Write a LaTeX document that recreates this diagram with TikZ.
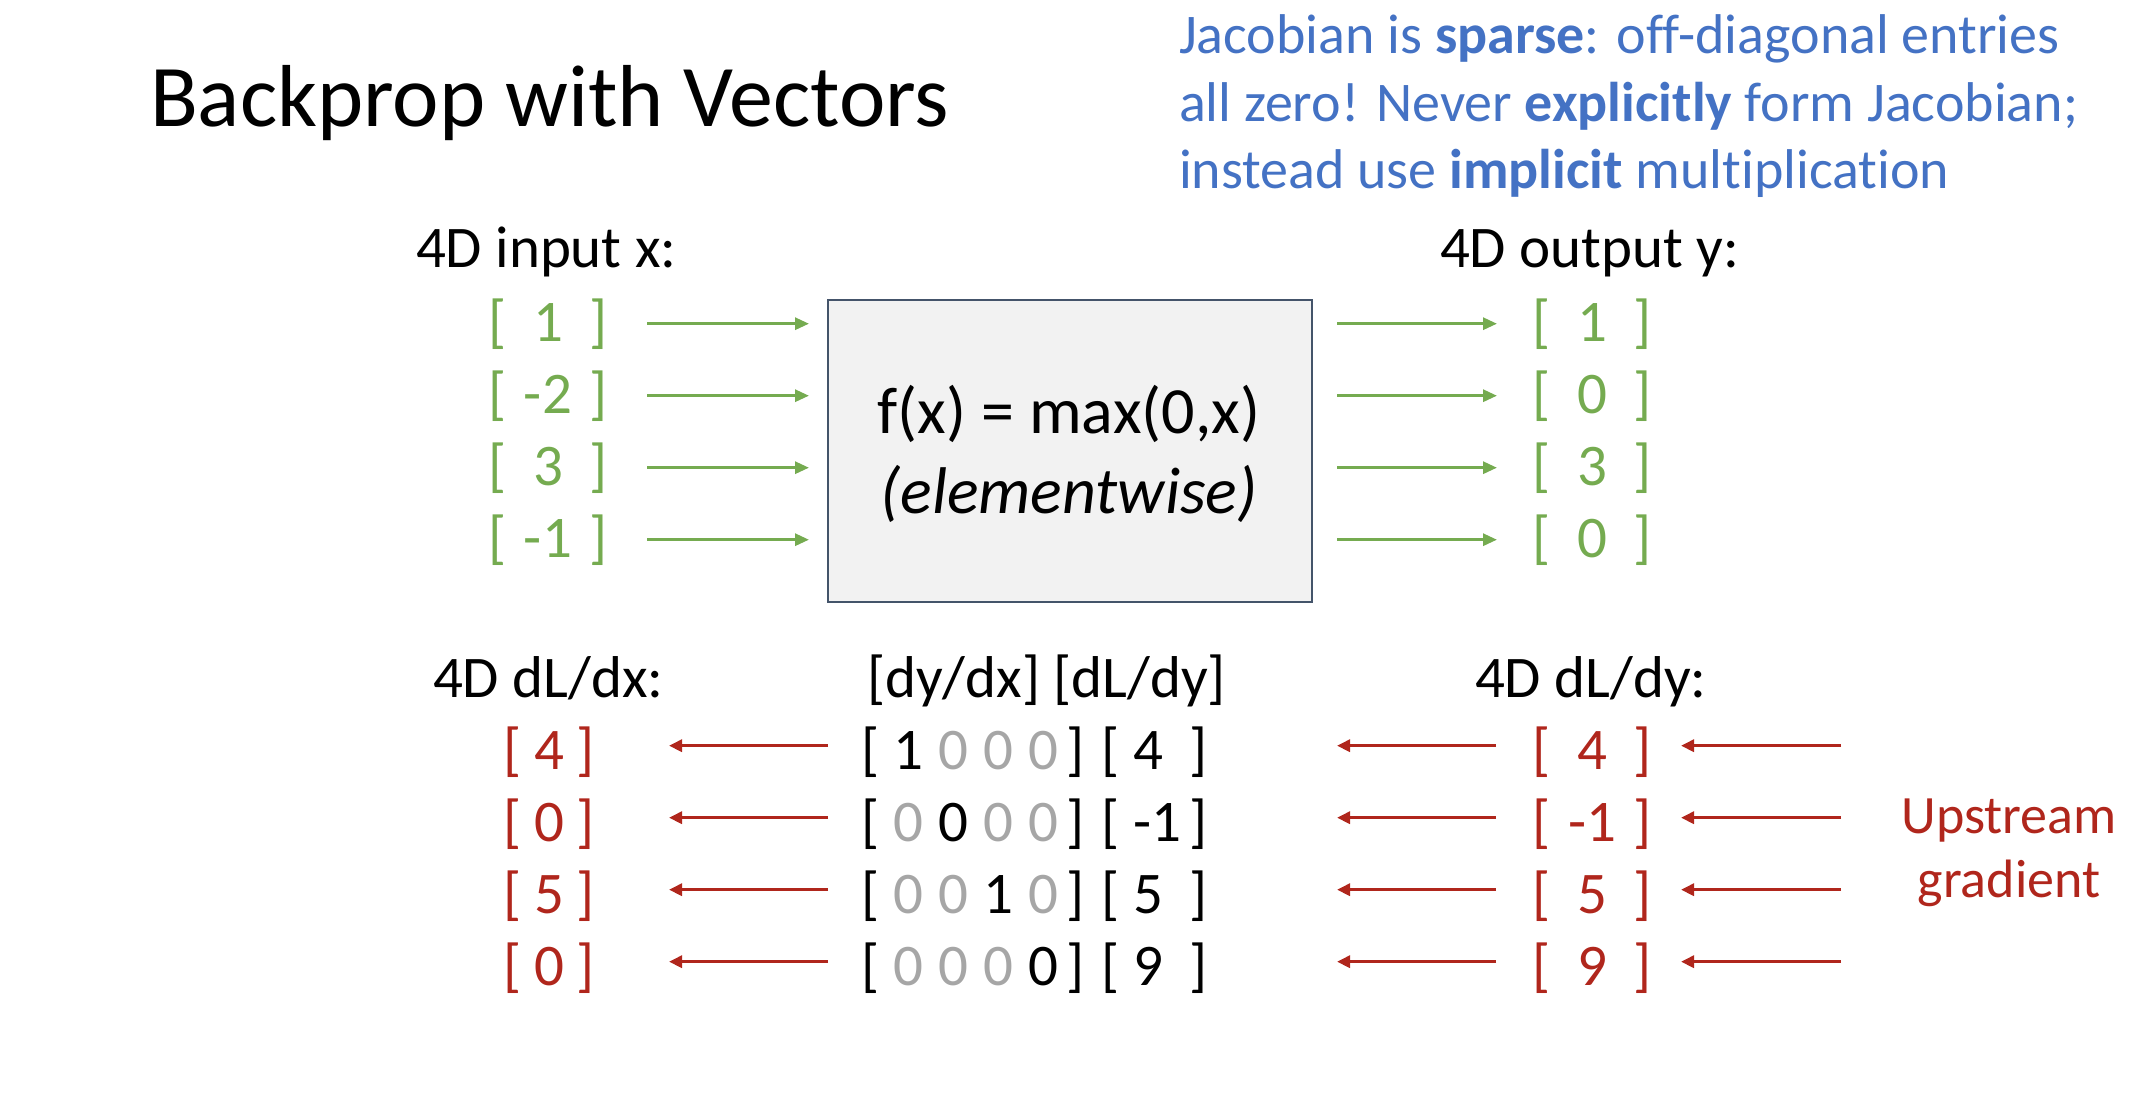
\documentclass[tikz,border=0pt]{standalone}
\usepackage{fontspec}
\setmainfont{Carlito}[Ligatures=NoCommon]
\usetikzlibrary{arrows.meta}
\definecolor{vgreen}{HTML}{75AB50}
\definecolor{vred}{HTML}{B0261C}
\definecolor{vblue}{HTML}{4472C4}
\definecolor{zerogray}{HTML}{A6A6A6}
\definecolor{boxfill}{HTML}{F2F2F2}
\definecolor{boxline}{HTML}{44546A}
\newcommand\vent[2]{\makebox[#1][s]{[\hfil#2\hfil]}}
\newcommand\jb[1]{\makebox[45pt]{#1}}
\newcommand\jg{\makebox[45pt]{\color{zerogray}0}}

\begin{document}
\begin{tikzpicture}
[x=1pt, y=-1pt, every node/.style={inner sep=0pt, outer sep=0pt},
 txt/.style={font=\fontsize{59}{70}\selectfont, anchor=base west},
 note/.style={font=\fontsize{56}{68}\selectfont, text=vblue, anchor=base west},
 garrow/.style={draw=vgreen, line width=3pt, -{Triangle[length=14pt, width=12pt]}},
 rarrow/.style={draw=vred, line width=3.5pt, -{Triangle[length=13pt, width=12pt]}}]
\useasboundingbox (0,0) rectangle (2134,1100);
\node (title) [anchor=base west, font=\fontsize{88}{100}\selectfont] at (150,126) {Backprop with Vectors};
\node (note1) [note] at (1179,53) {Jacobian is \textbf{sparse}: off-diagonal entries};
\node (note2) [note] at (1179,121) {all zero! Never \textbf{explicitly} form Jacobian;};
\node (note3) [note] at (1179,188) {instead use \textbf{implicit} multiplication};
\node (inlabel) [txt] at (416,267) {4D input x:};
\node (outlabel) [txt] at (1440,267) {4D output y:};
\node (fbox) [draw=boxline, line width=1.5pt, fill=boxfill, minimum width=484pt, minimum height=302pt] at (1070,451) {};
\node (fx) [anchor=base, font=\fontsize{66}{80}\selectfont] at (1069,433) {f(x) = max(0,x)};
\node (fxe) [anchor=base, font=\fontsize{66}{80}\selectfont\itshape] at (1069,513) {(elementwise)};
\foreach \v [count=\i] in {1,-2,3,-1}
  \node (x\i) [txt, text=vgreen] at (488,{341+72*(\i-1)}) {\vent{120pt}{\v}};
\foreach \v [count=\i] in {1,0,3,0}
  \node (y\i) [txt, text=vgreen] at (1532,{341+72*(\i-1)}) {\vent{120pt}{\v}};
\foreach \i in {1,...,4} {
  \draw [garrow, shorten <=39pt, shorten >=19pt] (x\i.east) -- (x\i.east -| fbox.west);
  \draw [garrow, shorten <=25pt, shorten >=35pt] (y\i.west -| fbox.east) -- (y\i.west);
}
\node (dxlabel) [txt] at (433,697) {4D dL/dx:};
\node (jlabel) [txt] at (867,697) {[dy/dx] [dL/dy]};
\node (dylabel) [txt] at (1475,697) {4D dL/dy:};
\foreach \v [count=\i] in {4,0,5,0}
  \node (d\i) [txt, text=vred] at (503,{769+72*(\i-1)}) {\vent{92pt}{\v}};
\foreach \row/\v [count=\i] in {{\jb{1}\jg\jg\jg}/4, {\jg\jb{0}\jg\jg}/-1, {\jg\jg\jb{1}\jg}/5, {\jg\jg\jg\jb{0}}/9}
  \node (m\i) [txt] at (861,{769+72*(\i-1)}) {[\hspace{7pt}\row]\hspace{17pt}[\makebox[70pt][l]{\hspace{14pt}\v}]};
\foreach \v [count=\i] in {4,-1,5,9}
  \node (r\i) [txt, text=vred] at (1532,{769+72*(\i-1)}) {\vent{120pt}{\v}};
\foreach \i in {1,...,4} {
  \coordinate (u\i) at ([xshift=189pt, yshift=6pt]r\i.east);
  \draw [rarrow, shorten <=33pt, shorten >=74pt] ([yshift=6pt]m\i.west) -- ([yshift=6pt]d\i.east);
  \draw [rarrow, shorten <=36pt, shorten >=25pt] ([yshift=6pt]r\i.west) -- ([yshift=6pt]r\i.west -| fbox.east);
  \draw [rarrow, shorten >=29pt] (u\i) -- ([yshift=6pt]r\i.east);
}
\node (upstream) [anchor=base, text=vred, font=\fontsize{54}{64}\selectfont] at (2009,833) {Upstream};
\node (gradient) [anchor=base, text=vred, font=\fontsize{54}{64}\selectfont] at (2009,897) {gradient};
\end{tikzpicture}
\end{document}
